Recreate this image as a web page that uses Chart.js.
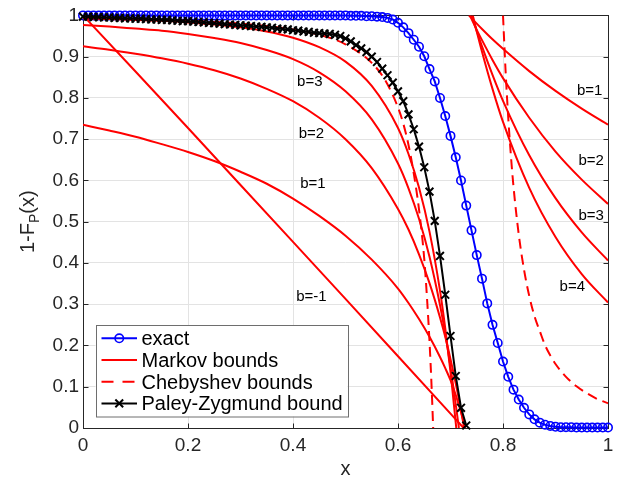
<!DOCTYPE html>
<html>
<head>
<meta charset="utf-8">
<script src="https://cdn.jsdelivr.net/npm/chart.js@4.4.1/dist/chart.umd.min.js"></script>
<style>
  html, body { margin: 0; padding: 0; background: #ffffff; }
  canvas { display: block; }
</style>
</head>
<body>
<canvas id="chart" width="628" height="481"></canvas>
<script>
// ---- data -------------------------------------------------------------
// sampling grid shared by the exact curve and the Paley-Zygmund bound
const gridX = [
  0.00,0.01,0.02,0.03,0.04,0.05,0.06,0.07,0.08,0.09,
  0.10,0.11,0.12,0.13,0.14,0.15,0.16,0.17,0.18,0.19,
  0.20,0.21,0.22,0.23,0.24,0.25,0.26,0.27,0.28,0.29,
  0.30,0.31,0.32,0.33,0.34,0.35,0.36,0.37,0.38,0.39,
  0.40,0.41,0.42,0.43,0.44,0.45,0.46,0.47,0.48,0.49,
  0.50,0.51,0.52,0.53,0.54,0.55,0.56,0.57,0.58,0.59,
  0.60,0.61,0.62,0.63,0.64,0.65,0.66,0.67,0.68,0.69,
  0.70,0.71,0.72,0.73,0.74,0.75,0.76,0.77,0.78,0.79,
  0.80,0.81,0.82,0.83,0.84,0.85,0.86,0.87,0.88,0.89,
  0.90,0.91,0.92,0.93,0.94,0.95,0.96,0.97,0.98,0.99,
  1.00
];

// exact tail probability 1-F_P(x)
const exactY = [
  1,1,1,1,1,1,1,1,1,1,
  1,1,1,1,1,1,1,1,1,1,
  1,1,1,1,1,1,1,1,1,1,
  1,1,1,1,1,1,1,1,1,1,
  1,1,1,1,1,1,1,1,1,1,
  1,0.999,0.999,0.999,0.998,0.998,0.997,0.996,0.994,0.990,
  0.982,0.971,0.957,0.941,0.924,0.901,0.870,0.840,0.800,0.756,
  0.708,0.656,0.600,0.539,0.479,0.419,0.362,0.302,0.250,0.206,
  0.161,0.124,0.093,0.069,0.049,0.033,0.021,0.013,0.008,0.005,
  0.003,0.002,0.002,0.002,0.001,0.001,0.001,0.001,0.001,0.001,
  0.001
];

// Paley-Zygmund lower bound, x = 0.00 ... 0.73
const pzY = [
  0.997,0.997,0.996,0.996,0.995,0.995,0.994,0.994,0.993,0.993,
  0.992,0.992,0.991,0.990,0.990,0.989,0.989,0.988,0.987,0.986,
  0.986,0.985,0.984,0.983,0.982,0.981,0.980,0.979,0.978,0.977,
  0.976,0.975,0.974,0.973,0.972,0.971,0.970,0.968,0.967,0.966,
  0.964,0.963,0.961,0.960,0.958,0.957,0.956,0.955,0.953,0.950,
  0.944,0.937,0.928,0.920,0.911,0.900,0.887,0.871,0.855,0.837,
  0.816,0.792,0.760,0.724,0.682,0.632,0.573,0.502,0.417,0.323,
  0.223,0.126,0.049,0.006
];

// Markov lower bounds (left family)
const markovLowNeg1X = [0,0.1,0.2,0.3,0.4,0.5,0.6,0.7,0.725];
const markovLowNeg1Y = [1.0,0.864,0.727,0.589,0.451,0.313,0.174,0.035,0];

const markovLow1X = [0,0.05,0.1,0.15,0.2,0.25,0.3,0.35,0.4,0.45,0.5,0.55,0.6,0.62,0.64,0.66,0.68,0.69,0.70,0.71,0.72,0.728];
const markovLow1Y = [0.735,0.721,0.706,0.688,0.669,0.647,0.621,0.592,0.556,0.514,0.466,0.408,0.338,0.303,0.264,0.221,0.172,0.145,0.116,0.080,0.038,0];

const markovLow2X = [0,0.05,0.1,0.15,0.2,0.25,0.3,0.35,0.4,0.45,0.5,0.55,0.6,0.62,0.64,0.66,0.68,0.69,0.70,0.71,0.72,0.726];
const markovLow2Y = [0.925,0.917,0.907,0.896,0.883,0.867,0.847,0.822,0.792,0.752,0.700,0.630,0.531,0.481,0.421,0.351,0.268,0.221,0.167,0.108,0.043,0];

const markovLow3X = [0,0.05,0.1,0.15,0.2,0.25,0.3,0.35,0.4,0.45,0.5,0.55,0.6,0.62,0.64,0.66,0.68,0.69,0.70,0.71,0.716];
const markovLow3Y = [0.977,0.973,0.968,0.963,0.955,0.945,0.933,0.916,0.894,0.862,0.816,0.748,0.641,0.581,0.507,0.415,0.298,0.228,0.148,0.057,0];

const markovLow4X = [0,0.05,0.1,0.15,0.2,0.25,0.3,0.35,0.4,0.45,0.5,0.55,0.6,0.62,0.64,0.66,0.68,0.69,0.70,0.705,0.711];
const markovLow4Y = [0.993,0.991,0.989,0.987,0.983,0.978,0.971,0.961,0.946,0.923,0.888,0.829,0.727,0.664,0.583,0.476,0.333,0.242,0.136,0.075,0];

// Markov upper bounds (right family)
const markovUp1X = [0.735,0.75,0.76,0.78,0.8,0.85,0.9,0.95,1.0];
const markovUp1Y = [1.0,0.980,0.967,0.942,0.919,0.865,0.817,0.774,0.735];

const markovUp2X = [0.737,0.75,0.76,0.78,0.8,0.85,0.9,0.95,1.0];
const markovUp2Y = [1.0,0.965,0.940,0.892,0.848,0.752,0.670,0.602,0.543];

const markovUp3X = [0.740,0.75,0.76,0.78,0.8,0.85,0.9,0.95,1.0];
const markovUp3Y = [1.0,0.962,0.925,0.856,0.793,0.661,0.557,0.474,0.406];

const markovUp4X = [0.7425,0.75,0.76,0.78,0.8,0.85,0.9,0.95,1.0];
const markovUp4Y = [1.0,0.961,0.912,0.822,0.742,0.582,0.463,0.373,0.304];

// Chebyshev bounds
const chebLowX = [0,0.1,0.2,0.3,0.4,0.45,0.5,0.55,0.575,0.6,0.61,0.62,0.63,0.64,0.65,0.655,0.66,0.664,0.667];
const chebLowY = [0.993,0.991,0.987,0.980,0.966,0.953,0.930,0.885,0.844,0.777,0.738,0.686,0.617,0.530,0.410,0.320,0.210,0.100,0];

const chebUpX = [0.8,0.805,0.81,0.815,0.82,0.83,0.84,0.85,0.86,0.87,0.88,0.89,0.90,0.92,0.94,0.96,0.98,1.0];
const chebUpY = [1.0,0.863,0.752,0.661,0.585,0.469,0.384,0.320,0.271,0.235,0.201,0.176,0.155,0.124,0.101,0.084,0.070,0.060];

// axis ticks
const xTickValues = [0, 0.2, 0.4, 0.6, 0.8, 1];
const xTickLabels = ['0', '0.2', '0.4', '0.6', '0.8', '1'];
const yTickValues = [0, 0.1, 0.2, 0.3, 0.4, 0.5, 0.6, 0.7, 0.8, 0.9, 1];
const yTickLabels = ['0', '0.1', '0.2', '0.3', '0.4', '0.5', '0.6', '0.7', '0.8', '0.9', '1'];

// curve annotations (anchored in data coordinates)
const curveNotes = [
  { text: 'b=3',  x: 0.432, y: 0.839 },
  { text: 'b=2',  x: 0.435, y: 0.714 },
  { text: 'b=1',  x: 0.438, y: 0.592 },
  { text: 'b=-1', x: 0.435, y: 0.317 },
  { text: 'b=1',  x: 0.965, y: 0.817 },
  { text: 'b=2',  x: 0.968, y: 0.648 },
  { text: 'b=3',  x: 0.968, y: 0.515 },
  { text: 'b=4',  x: 0.932, y: 0.342 }
];

const legendEntries = [
  { text: 'exact',               color: '#0000ff', dash: [],      marker: 'circle' },
  { text: 'Markov bounds',       color: '#ff0000', dash: [],      marker: null },
  { text: 'Chebyshev bounds',    color: '#ff0000', dash: [12, 9], marker: null },
  { text: 'Paley-Zygmund bound', color: '#000000', dash: [],      marker: 'cross' }
];

// ---- helpers -----------------------------------------------------------
const FONT = '"Liberation Sans", Arial, Helvetica, sans-serif';
const AXIS_COLOR = '#262626';
const pts = (xs, ys) => xs.map((x, i) => ({ x: x, y: ys[i] }));

const RED = '#ff0000';
const redSolid = (xs, ys, smooth) => ({
  data: pts(xs, ys),
  borderColor: RED,
  borderWidth: 2,
  pointRadius: 0,
  cubicInterpolationMode: smooth ? 'monotone' : 'default',
  tension: 0
});
const redDashed = (xs, ys) => Object.assign(redSolid(xs, ys, true), { borderDash: [10, 6] });

// ---- frame, ticks, annotations, legend ----------------------------------
const decorations = {
  id: 'decorations',
  beforeDatasetsDraw(chart) {
    const { ctx, chartArea: a, scales } = chart;
    const L = Math.round(a.left) + 0.5, R = Math.round(a.right) + 0.5;
    const T = Math.round(a.top) + 0.5, B = Math.round(a.bottom) + 0.5;
    ctx.save();
    ctx.strokeStyle = AXIS_COLOR;
    ctx.lineWidth = 1;
    ctx.strokeRect(L, T, R - L, B - T);
    const tl = 5;
    ctx.beginPath();
    xTickValues.forEach(v => {
      const px = Math.round(scales.x.getPixelForValue(v)) + 0.5;
      ctx.moveTo(px, B); ctx.lineTo(px, B - tl);
      ctx.moveTo(px, T); ctx.lineTo(px, T + tl);
    });
    yTickValues.forEach(v => {
      const py = Math.round(scales.y.getPixelForValue(v)) + 0.5;
      ctx.moveTo(L, py); ctx.lineTo(L + tl, py);
      ctx.moveTo(R, py); ctx.lineTo(R - tl, py);
    });
    ctx.stroke();
    ctx.restore();
  },
  afterDraw(chart) {
    const { ctx, chartArea: a, scales } = chart;
    ctx.save();

    // curve annotations
    ctx.fillStyle = '#000000';
    ctx.font = '15px ' + FONT;
    ctx.textAlign = 'center';
    ctx.textBaseline = 'middle';
    curveNotes.forEach(n => {
      ctx.fillText(n.text, scales.x.getPixelForValue(n.x), scales.y.getPixelForValue(n.y));
    });

    // x axis title
    ctx.fillStyle = AXIS_COLOR;
    ctx.font = '20px ' + FONT;
    ctx.textAlign = 'center';
    ctx.textBaseline = 'alphabetic';
    ctx.fillText('x', (a.left + a.right) / 2, 475);

    // y axis title with subscript: 1-F_P(x)
    ctx.save();
    ctx.translate(34, (a.top + a.bottom) / 2);
    ctx.rotate(-Math.PI / 2);
    ctx.textAlign = 'left';
    const mainFont = '20px ' + FONT, subFont = '14px ' + FONT;
    ctx.font = mainFont; const w1 = ctx.measureText('1-F').width;
    ctx.font = subFont;  const w2 = ctx.measureText('P').width;
    ctx.font = mainFont; const w3 = ctx.measureText('(x)').width;
    let sx = -(w1 + w2 + w3) / 2;
    ctx.font = mainFont; ctx.fillText('1-F', sx, 0); sx += w1;
    ctx.font = subFont;  ctx.fillText('P', sx, 5); sx += w2;
    ctx.font = mainFont; ctx.fillText('(x)', sx, 0);
    ctx.restore();

    // legend box
    const bx = a.left + 12.5, bw = 252, bh = 91.5;
    const by = a.bottom - 11.5 - bh;
    ctx.fillStyle = '#ffffff';
    ctx.fillRect(bx, by, bw, bh);
    ctx.strokeStyle = '#6e6e6e';
    ctx.lineWidth = 1;
    ctx.strokeRect(Math.round(bx) + 0.5, Math.round(by) + 0.5, bw, bh);
    ctx.font = '20px ' + FONT;
    ctx.textAlign = 'left';
    ctx.textBaseline = 'alphabetic';
    legendEntries.forEach((e, i) => {
      const cy = by + 13.3 + i * 21.7;
      const x0 = bx + 6, x1 = bx + 41.5, xm = (x0 + x1) / 2;
      ctx.strokeStyle = e.color;
      ctx.lineWidth = 2;
      ctx.setLineDash(e.dash);
      ctx.beginPath(); ctx.moveTo(x0, cy); ctx.lineTo(x1, cy); ctx.stroke();
      ctx.setLineDash([]);
      if (e.marker === 'circle') {
        ctx.lineWidth = 1.6;
        ctx.beginPath(); ctx.arc(xm, cy, 4.2, 0, Math.PI * 2); ctx.stroke();
      } else if (e.marker === 'cross') {
        const r = 3.9;
        ctx.lineWidth = 2;
        ctx.beginPath();
        ctx.moveTo(xm - r, cy - r); ctx.lineTo(xm + r, cy + r);
        ctx.moveTo(xm - r, cy + r); ctx.lineTo(xm + r, cy - r);
        ctx.stroke();
      }
      ctx.fillStyle = '#000000';
      ctx.fillText(e.text, bx + 46, cy + 7);
    });
    ctx.restore();
  }
};

// ---- chart -------------------------------------------------------------
const datasets = [
  { // Paley-Zygmund bound (drawn on top)
    data: pts(gridX.slice(0, pzY.length), pzY),
    borderColor: '#000000',
    borderWidth: 2,
    pointStyle: 'crossRot',
    pointRadius: 5.5,
    pointBorderWidth: 2,
    pointBorderColor: '#000000',
    pointBackgroundColor: '#000000',
    tension: 0,
    clip: false
  },
  redDashed(chebLowX, chebLowY),
  redDashed(chebUpX, chebUpY),
  redSolid(markovLowNeg1X, markovLowNeg1Y, false),
  redSolid(markovLow1X, markovLow1Y, true),
  redSolid(markovLow2X, markovLow2Y, true),
  redSolid(markovLow3X, markovLow3Y, true),
  redSolid(markovLow4X, markovLow4Y, true),
  redSolid(markovUp1X, markovUp1Y, true),
  redSolid(markovUp2X, markovUp2Y, true),
  redSolid(markovUp3X, markovUp3Y, true),
  redSolid(markovUp4X, markovUp4Y, true),
  { // exact curve
    data: pts(gridX, exactY),
    borderColor: '#0000ff',
    borderWidth: 2,
    pointStyle: 'circle',
    pointRadius: 4.2,
    pointBorderWidth: 1.6,
    pointBorderColor: '#0000ff',
    pointBackgroundColor: 'rgba(0,0,0,0)',
    tension: 0,
    clip: false
  }
];

new Chart(document.getElementById('chart'), {
  type: 'line',
  data: { datasets: datasets },
  options: {
    responsive: false,
    devicePixelRatio: 1,
    animation: false,
    events: [],
    layout: { padding: { left: 0, right: 20, top: 14, bottom: 0 } },
    plugins: { legend: { display: false }, tooltip: { enabled: false } },
    scales: {
      x: {
        type: 'linear',
        min: 0, max: 1,
        afterBuildTicks: s => { s.ticks = xTickValues.map(v => ({ value: v })); },
        afterFit: s => { s.height = 53; },
        grid: { color: '#e3e3e3', lineWidth: 1, drawTicks: false },
        border: { display: false },
        ticks: {
          padding: 6,
          color: AXIS_COLOR,
          font: { family: FONT, size: 19 },
          maxRotation: 0,
          callback: v => xTickLabels[xTickValues.indexOf(v)]
        }
      },
      y: {
        type: 'linear',
        min: 0, max: 1,
        afterBuildTicks: s => { s.ticks = yTickValues.map(v => ({ value: v })); },
        afterFit: s => { s.width = 83; },
        grid: { color: '#e3e3e3', lineWidth: 1, drawTicks: false },
        border: { display: false },
        ticks: {
          padding: 4,
          color: AXIS_COLOR,
          font: { family: FONT, size: 19 },
          callback: v => yTickLabels[yTickValues.indexOf(v)]
        }
      }
    }
  },
  plugins: [decorations]
});
</script>
</body>
</html>
